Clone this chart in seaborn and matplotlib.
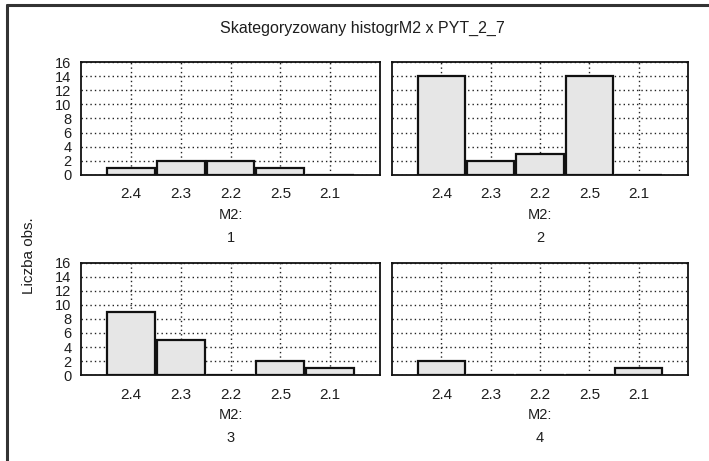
import matplotlib
matplotlib.use("Agg")
import matplotlib.pyplot as plt
import seaborn as sns
import pandas as pd
from matplotlib.lines import Line2D

# ---- data ----
categories = ["2.4", "2.3", "2.2", "2.5", "2.1"]
panel_labels = ["1", "2", "3", "4"]
counts_1 = [1, 2, 2, 1, 0]
counts_2 = [14, 2, 3, 14, 0]
counts_3 = [9, 5, 0, 2, 1]
counts_4 = [2, 0, 0, 0, 1]
y_ticks = [0, 2, 4, 6, 8, 10, 12, 14, 16]
title = "Skategoryzowany histogrM2 x PYT_2_7"
y_label = "Liczba obs."
x_var = "M2:"

sns.set_theme(style="white")
plt.rcParams["font.family"] = ["Liberation Sans", "DejaVu Sans"]

W, H = 709, 461
fig = plt.figure(figsize=(W / 100, H / 100), dpi=100)
fig.patch.set_facecolor("white")

txt_col = "#1e1e1e"

# axes rectangles in pixels: (left, top, right, bottom)
rects = [(81, 62, 380, 175), (392, 62, 688, 175),
         (81, 263, 380, 375), (392, 263, 688, 375)]
all_counts = [counts_1, counts_2, counts_3, counts_4]

for i, (rect, counts, plab) in enumerate(zip(rects, all_counts, panel_labels)):
    l, t, r, b = rect
    ax = fig.add_axes([l / W, 1 - b / H, (r - l) / W, (b - t) / H])
    df = pd.DataFrame({"cat": categories, "n": counts})
    sns.barplot(data=df, x="cat", y="n", order=categories, ax=ax,
                color="#e6e6e6", saturation=1, edgecolor="#111111",
                linewidth=1.6, width=0.96)
    ax.set_axisbelow(True)
    ax.set_xlim(-1, 5)
    ax.set_ylim(0, 16)
    ax.set_yticks(y_ticks)
    ax.grid(True, which="major", color="#222222", linestyle=(0, (1, 2.2)),
            linewidth=1.0)
    for s in ax.spines.values():
        s.set_color("#111111")
        s.set_linewidth(1.3)
        s.set_visible(True)
    ax.tick_params(axis="both", length=0, labelcolor=txt_col)
    ax.tick_params(axis="x", pad=9, labelsize=11)
    ax.tick_params(axis="y", pad=7, labelsize=10.5)
    if i % 2 == 1:
        ax.set_yticklabels([])
    ax.set_xlabel("")
    ax.set_ylabel("")
    ax.annotate(x_var, xy=(0.5, 0), xycoords="axes fraction",
                xytext=(0, -29), textcoords="offset points",
                ha="center", va="center", fontsize=10.5, color=txt_col)
    ax.annotate(plab, xy=(0.5, 0), xycoords="axes fraction",
                xytext=(0, -45.5), textcoords="offset points",
                ha="center", va="center", fontsize=10.5, color=txt_col)

fig.text(362 / W, 1 - 28 / H, title, ha="center", va="center",
         fontsize=11.5, color=txt_col)
fig.text(29 / W, 1 - 256 / H, y_label, ha="center", va="center",
         rotation=90, fontsize=11, color=txt_col)

# outer frame (top and left)
fig.add_artist(Line2D([7 / W, 1.0], [1 - 5 / H, 1 - 5 / H], color="#333333",
                      linewidth=2.2, transform=fig.transFigure))
fig.add_artist(Line2D([7 / W, 7 / W], [0.0, 1 - 5 / H], color="#333333",
                      linewidth=2.2, transform=fig.transFigure))

fig.savefig("out.png", dpi=100, facecolor="white")
